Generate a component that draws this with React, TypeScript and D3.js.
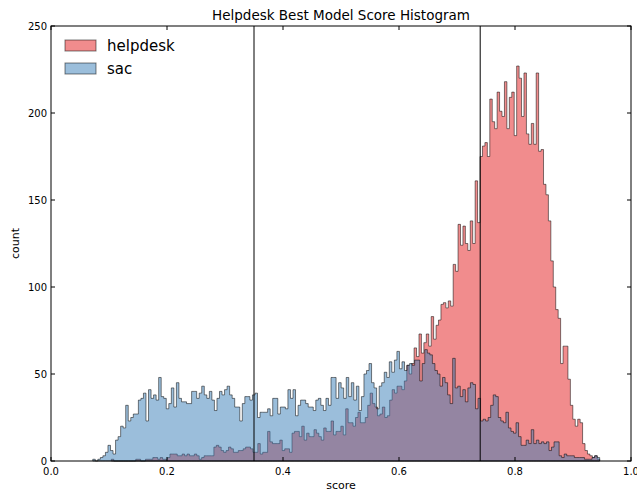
import React from 'react';
import * as d3 from 'd3';

// Histogram bins: each series spans its own [min, max] score range, split into equal bins.
const helpdeskRange: [number, number] = [0.104, 0.946];
const sacRange: [number, number] = [0.072, 0.946];

const helpdeskCounts = [
  1, 0, 0, 0, 0, 0, 0, 0, 0, 0,
  1, 1, 0, 0, 1, 1, 1, 2, 2, 1,
  2, 1, 1, 2, 4, 4, 4, 3, 3, 4,
  3, 4, 3, 3, 4, 3, 1, 2, 3, 3,
  3, 3, 8, 9, 8, 6, 5, 6, 8, 7,
  5, 5, 6, 6, 7, 8, 8, 7, 5, 5,
  10, 4, 5, 5, 17, 11, 10, 10, 10, 12,
  6, 7, 7, 5, 16, 17, 17, 14, 20, 12,
  16, 14, 14, 18, 16, 14, 12, 19, 17, 17,
  23, 15, 17, 17, 20, 15, 30, 22, 22, 20,
  25, 28, 22, 22, 25, 32, 39, 33, 31, 26,
  27, 31, 25, 26, 35, 41, 39, 43, 43, 41,
  46, 55, 50, 56, 65, 60, 73, 62, 68, 73,
  66, 83, 70, 78, 81, 90, 91, 88, 92, 89,
  113, 109, 136, 124, 135, 125, 121, 138, 125, 161,
  137, 175, 181, 183, 175, 208, 195, 191, 212, 201,
  198, 218, 191, 209, 212, 187, 227, 220, 198, 223,
  188, 182, 194, 182, 223, 178, 179, 159, 153, 138,
  115, 100, 87, 82, 56, 66, 66, 47, 32, 24,
  20, 24, 22, 10, 6, 4, 3, 2, 3, 1,
];

const sacCounts = [
  1, 0, 1, 2, 3, 5, 9, 6, 4, 12,
  14, 20, 19, 32, 23, 25, 27, 27, 35, 36,
  39, 23, 41, 36, 38, 35, 48, 37, 36, 30,
  33, 42, 31, 45, 36, 34, 34, 33, 33, 40,
  40, 36, 39, 43, 38, 36, 40, 35, 29, 36,
  40, 38, 41, 43, 38, 36, 31, 31, 23, 33,
  37, 37, 35, 38, 39, 25, 28, 28, 28, 30,
  26, 36, 36, 27, 31, 31, 30, 41, 36, 41,
  26, 32, 35, 35, 33, 31, 31, 29, 35, 36,
  32, 29, 36, 32, 48, 48, 36, 45, 42, 36,
  48, 37, 45, 35, 43, 29, 37, 50, 52, 56,
  45, 42, 30, 43, 45, 51, 48, 57, 51, 58,
  63, 53, 57, 52, 55, 56, 55, 58, 58, 46,
  56, 64, 62, 61, 56, 52, 50, 43, 48, 45,
  38, 33, 59, 42, 43, 37, 41, 34, 42, 45,
  44, 30, 36, 23, 24, 23, 25, 32, 38, 37,
  25, 23, 22, 28, 19, 17, 16, 22, 14, 9,
  9, 12, 10, 18, 10, 12, 10, 11, 10, 11,
  6, 8, 11, 11, 3, 2, 4, 3, 3, 3,
  2, 2, 2, 2, 1, 1, 1, 2, 3, 2,
];

const seriesNames = ['helpdesk', 'sac'];
const seriesColors = ['#e41a1c', '#377eb8'];
const xTicks = [0, 0.2, 0.4, 0.6, 0.8, 1.0];
const yTicks = [0, 50, 100, 150, 200, 250];
const thresholdScores = [0.35, 0.74];

const W = 637;
const H = 491;
const margin = { left: 51, right: 6, top: 26, bottom: 30 };
const FONT = '"DejaVu Sans", sans-serif';

function stepArea(
  counts: number[],
  range: [number, number],
  x: d3.ScaleLinear<number, number>,
  y: d3.ScaleLinear<number, number>
): string {
  const w = (range[1] - range[0]) / counts.length;
  const pts: [number, number][] = counts.map((c, i) => [range[0] + i * w, c]);
  pts.push([range[1], counts[counts.length - 1]]);
  return (
    d3
      .area<[number, number]>()
      .x((d) => x(d[0]))
      .y0(y(0))
      .y1((d) => y(d[1]))
      .curve(d3.curveStepAfter)(pts) || ''
  );
}

export default function App() {
  const x = d3.scaleLinear().domain([0, 1]).range([margin.left, W - margin.right]);
  const y = d3.scaleLinear().domain([0, 250]).range([H - margin.bottom, margin.top]);
  const x0 = x.range()[0];
  const x1 = x.range()[1];
  const yb = y.range()[0];
  const yt = y.range()[1];
  const tickLen = 4;

  const data = [
    { counts: helpdeskCounts, range: helpdeskRange },
    { counts: sacCounts, range: sacRange },
  ];

  return (
    <svg
      width={W}
      height={H}
      style={{ position: 'absolute', left: 0, top: 0, background: '#fff' }}
      fontFamily={FONT}
    >
      <rect x={0} y={0} width={W} height={H} fill="#fff" />
      {data.map((s, i) => (
        <path
          key={seriesNames[i]}
          d={stepArea(s.counts, s.range, x, y)}
          fill={seriesColors[i]}
          fillOpacity={0.5}
          stroke="#000"
          strokeOpacity={0.5}
          strokeWidth={1}
        />
      ))}
      {thresholdScores.map((t) => (
        <line key={t} x1={x(t)} x2={x(t)} y1={yb} y2={yt} stroke="#000" strokeWidth={1} />
      ))}

      {/* axes frame */}
      <rect x={x0} y={yt} width={x1 - x0} height={yb - yt} fill="none" stroke="#000" strokeWidth={1} />

      {xTicks.map((t) => (
        <g key={'x' + t}>
          <line x1={x(t)} x2={x(t)} y1={yb} y2={yb - tickLen} stroke="#000" />
          <line x1={x(t)} x2={x(t)} y1={yt} y2={yt + tickLen} stroke="#000" />
          <text x={x(t)} y={yb + 14} fontSize={10} textAnchor="middle" fill="#000">
            {d3.format('.1f')(t)}
          </text>
        </g>
      ))}
      {yTicks.map((t) => (
        <g key={'y' + t}>
          <line x1={x0} x2={x0 + tickLen} y1={y(t)} y2={y(t)} stroke="#000" />
          <line x1={x1} x2={x1 - tickLen} y1={y(t)} y2={y(t)} stroke="#000" />
          <text x={x0 - 4} y={y(t)} dy="0.35em" fontSize={10} textAnchor="end" fill="#000">
            {t}
          </text>
        </g>
      ))}

      <text x={(x0 + x1) / 2} y={20} fontSize={13.5} textAnchor="middle" fill="#000">
        Helpdesk Best Model Score Histogram
      </text>
      <text x={(x0 + x1) / 2} y={489} fontSize={11} textAnchor="middle" fill="#000">
        score
      </text>
      <text
        transform={`translate(19, ${(yb + yt) / 2}) rotate(-90)`}
        fontSize={11}
        textAnchor="middle"
        fill="#000"
      >
        count
      </text>

      {/* legend */}
      {seriesNames.map((name, i) => (
        <g key={'lg' + name} transform={`translate(65, ${40 + i * 23})`}>
          <rect
            width={31}
            height={11}
            fill={seriesColors[i]}
            fillOpacity={0.5}
            stroke="#000"
            strokeOpacity={0.5}
          />
          <text x={42} y={11} fontSize={15} fill="#000">
            {name}
          </text>
        </g>
      ))}
    </svg>
  );
}
